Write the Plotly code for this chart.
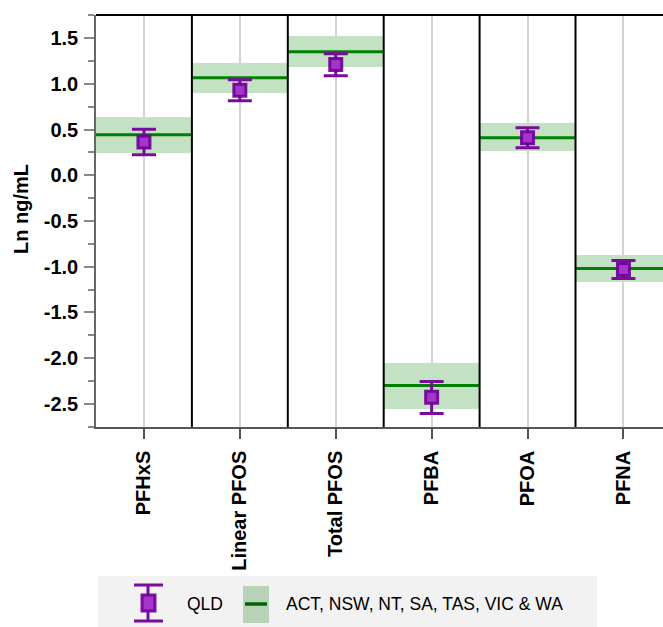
import plotly.graph_objects as go

# ---------------- data ----------------
categories = ["PFHxS", "Linear PFOS", "Total PFOS", "PFBA", "PFOA", "PFNA"]

# QLD: mean with 95% CI (Ln ng/mL)
qld_mean = [0.365, 0.93, 1.214, -2.43, 0.41, -1.03]
qld_low = [0.226, 0.817, 1.09, -2.607, 0.303, -1.13]
qld_high = [0.503, 1.047, 1.331, -2.257, 0.522, -0.933]

# Other states: mean with 95% CI band
oth_mean = [0.445, 1.069, 1.353, -2.301, 0.412, -1.021]
oth_low = [0.244, 0.90, 1.185, -2.557, 0.266, -1.167]
oth_high = [0.635, 1.225, 1.521, -2.057, 0.569, -0.875]

y_tickvals = [1.5, 1.0, 0.5, 0.0, -0.5, -1.0, -1.5, -2.0, -2.5]
y_ticktext = ["1.5", "1.0", "0.5", "0.0", "-0.5", "-1.0", "-1.5", "-2.0", "-2.5"]
y_minor = [1.75, 1.25, 0.75, 0.25, -0.25, -0.75, -1.25, -1.75, -2.25, -2.75]

legend_qld = "QLD"
legend_oth = "ACT, NSW, NT, SA, TAS, VIC & WA"

# ---------------- layout constants ----------------
W, H = 663, 627
ML, MR, MT, MB = 96, 0, 15, 200
PW, PH = W - ML - MR, H - MT - MB

FONT = "Liberation Sans, Arial, sans-serif"
PURPLE = "#7b0a9f"
MFILL = "#a534cc"
GREEN = "#008000"
BAND = "#c3e2c3"

idx = list(range(len(categories)))

fig = go.Figure()

# bands
fig.add_trace(go.Bar(
    x=idx,
    y=[h - l for h, l in zip(oth_high, oth_low)],
    base=oth_low,
    width=1.0,
    marker=dict(color=BAND, line=dict(width=0)),
    showlegend=False,
    hoverinfo="skip",
))

# mean lines
lx, ly = [], []
for i, m in zip(idx, oth_mean):
    lx += [i - 0.5, i + 0.5, None]
    ly += [m, m, None]
fig.add_trace(go.Scatter(
    x=lx, y=ly, mode="lines",
    line=dict(color=GREEN, width=3),
    showlegend=False, hoverinfo="skip",
))

# QLD points with CI
fig.add_trace(go.Scatter(
    x=idx, y=qld_mean, mode="markers",
    marker=dict(symbol="square", size=12, color=MFILL,
                line=dict(color="rgba(110,0,150,0.9)", width=3)),
    error_y=dict(type="data", symmetric=False,
                 array=[h - m for h, m in zip(qld_high, qld_mean)],
                 arrayminus=[m - l for m, l in zip(qld_mean, qld_low)],
                 color=PURPLE, thickness=3, width=12),
    showlegend=False,
))

shapes = []
# category separators
for i in idx[:-1]:
    shapes.append(dict(type="line", xref="x", yref="paper",
                       x0=i + 0.5, x1=i + 0.5, y0=0, y1=1,
                       line=dict(color="black", width=2)))
# top border
shapes.append(dict(type="line", xref="paper", yref="paper",
                   x0=0, x1=1, y0=1, y1=1,
                   line=dict(color="black", width=2)))


def px(xp):
    return (xp - ML) / PW


def py(yp):
    return (H - MB - yp) / PH


# custom legend
shapes.append(dict(type="rect", xref="paper", yref="paper",
                   x0=px(98), x1=px(597), y0=py(576), y1=py(640),
                   fillcolor="#f2f2f2", line=dict(width=0), layer="above"))
# QLD legend symbol
shapes += [
    dict(type="line", xref="paper", yref="paper", x0=px(148), x1=px(148),
         y0=py(585), y1=py(621), line=dict(color=PURPLE, width=3)),
    dict(type="line", xref="paper", yref="paper", x0=px(134), x1=px(163),
         y0=py(585), y1=py(585), line=dict(color=PURPLE, width=3)),
    dict(type="line", xref="paper", yref="paper", x0=px(134), x1=px(163),
         y0=py(621), y1=py(621), line=dict(color=PURPLE, width=3)),
    dict(type="rect", xref="paper", yref="paper", x0=px(142), x1=px(155),
         y0=py(595), y1=py(611), fillcolor=MFILL,
         line=dict(color="rgba(110,0,150,0.9)", width=3)),
]
# other states legend symbol
shapes += [
    dict(type="rect", xref="paper", yref="paper", x0=px(243), x1=px(269),
         y0=py(586), y1=py(623), fillcolor="#b9d3b9", line=dict(width=0)),
    dict(type="line", xref="paper", yref="paper", x0=px(245), x1=px(267),
         y0=py(604), y1=py(604), line=dict(color="#006400", width=3.5)),
]

annotations = [
    dict(text=legend_qld, xref="paper", yref="paper", x=px(185), y=py(604),
         xanchor="left", yanchor="middle", showarrow=False,
         font=dict(family=FONT, size=17.5, color="black")),
    dict(text=legend_oth, xref="paper", yref="paper", x=px(284), y=py(604),
         xanchor="left", yanchor="middle", showarrow=False,
         font=dict(family=FONT, size=17.5, color="black")),
    dict(text="Ln ng/mL", xref="paper", yref="paper", x=px(21), y=py(209),
         xanchor="center", yanchor="middle", showarrow=False, textangle=-90,
         font=dict(family=FONT, size=20, color="black", weight="bold")),
]

fig.update_layout(
    width=W, height=H,
    margin=dict(l=ML, r=MR, t=MT, b=MB, pad=0),
    paper_bgcolor="white", plot_bgcolor="white",
    showlegend=False,
    shapes=shapes, annotations=annotations,
    bargap=0,
)

fig.update_xaxes(
    range=[-0.5, -0.5 + PW / 95.9],
    tickvals=idx, ticktext=categories, tickangle=-90,
    ticks="outside", ticklen=10, tickcolor="#555", tickwidth=1.5,
    ticklabelstandoff=4,
    showline=True, linecolor="#555", linewidth=1.5,
    showgrid=True, gridcolor="#d3d3d3", gridwidth=1.5,
    zeroline=False,
    tickfont=dict(family=FONT, size=20, color="black", weight="bold"),
)
fig.update_yaxes(
    range=[-2.755, 1.755],
    tickvals=y_tickvals, ticktext=y_ticktext,
    ticks="outside", ticklen=10, tickcolor="#888", tickwidth=1.5,
    ticklabelstandoff=2,
    minor=dict(tickvals=y_minor, ticks="outside", ticklen=6,
               tickcolor="#888", tickwidth=1.5, showgrid=False),
    showline=True, linecolor="#666", linewidth=1.5,
    showgrid=False, zeroline=False,
    tickfont=dict(family=FONT, size=20, color="black", weight="bold"),
)

fig.write_html("out.html",
               config={"displayModeBar": False},
               post_script="document.body.style.margin='0';document.body.style.overflow='hidden';")
